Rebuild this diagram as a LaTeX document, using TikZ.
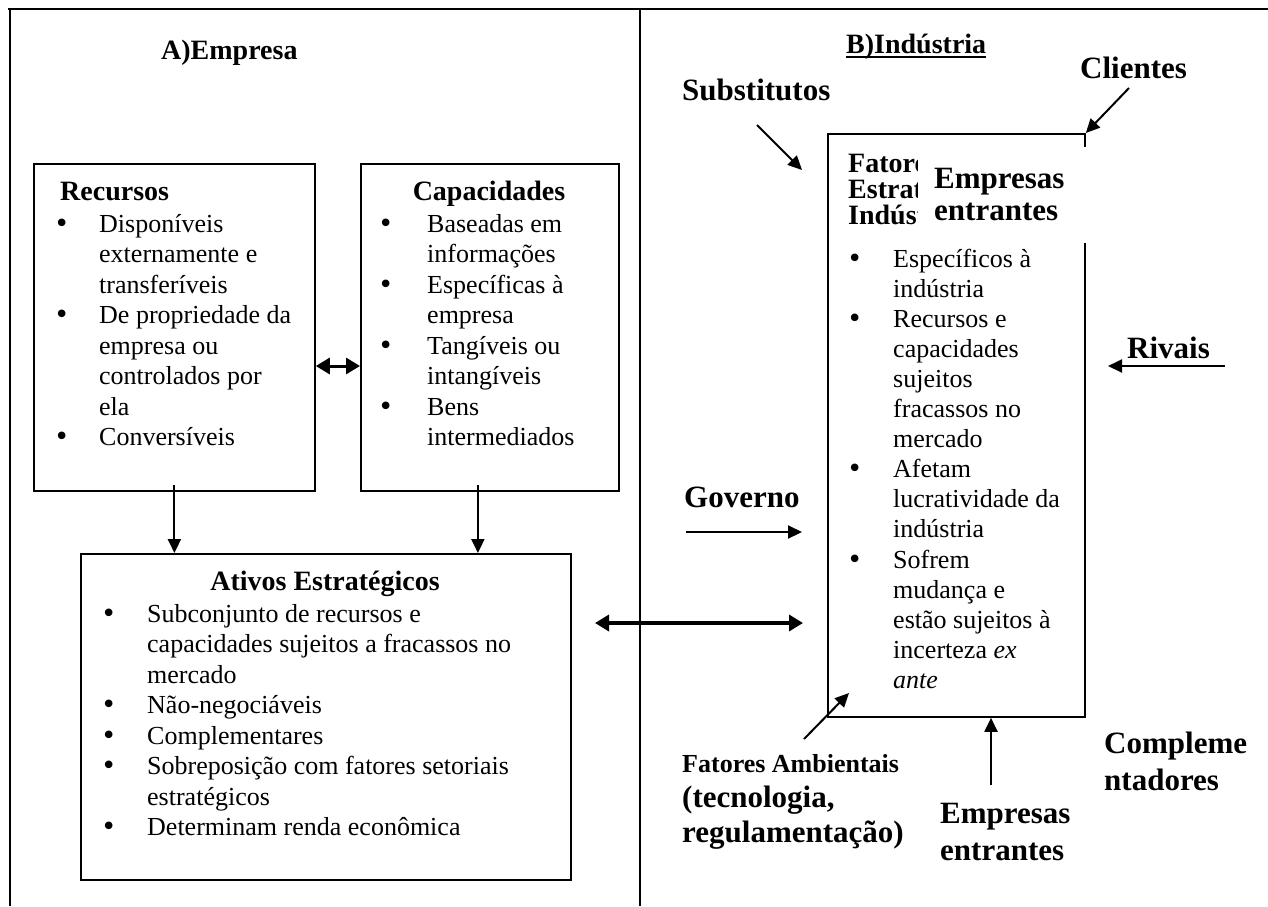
\documentclass[tikz,border=0pt]{standalone}
\usepackage{fontspec}
\setmainfont{Liberation Serif}
\newfontfamily\bulfont{DejaVu Sans}
\usetikzlibrary{arrows.meta,calc}
\begin{document}
\begin{tikzpicture}[x=1pt,y=-1pt,
  body/.style={font=\fontsize{26}{30}\selectfont, inner sep=0pt, anchor=base west},
  ttl/.style={font=\bfseries\fontsize{28}{32}\selectfont, inner sep=0pt, anchor=base west},
  big/.style={font=\bfseries\fontsize{31}{35}\selectfont, inner sep=0pt, anchor=base west},
  sml/.style={font=\bfseries\fontsize{26}{30}\selectfont, inner sep=0pt, anchor=base west},
  bul/.style={font=\bulfont\fontsize{26}{28}\selectfont, inner sep=0pt, anchor=base west},
  box/.style={draw, line width=1.8pt, inner sep=0pt, anchor=north west},
  frame/.style={line width=2.2pt},
  arr/.style={line width=2pt, -{Triangle[length=14pt,width=13pt]}},
  darr/.style={line width=3.5pt, {Triangle[length=14pt,width=16pt]}-{Triangle[length=14pt,width=16pt]}}
]
\useasboundingbox (0,0) rectangle (1268,906);
% frame
\draw[frame] (8,9) -- (1268,9);
\draw[frame] (10,9) -- (10,906);
\draw[frame] (640,9) -- (640,906);

% ---------- A) Empresa ----------
\node[ttl] (tA) at (161,59) {A)Empresa};

\node[box, minimum width=281pt, minimum height=327pt] (rec) at (33,163) {};
\node[box, minimum width=258pt, minimum height=327pt] (cap) at (360,163) {};
\node[box, minimum width=490pt, minimum height=326pt] (ati) at (80,553) {};

\node[ttl] (recT) at (60,200) {Recursos};
\foreach \t [count=\i] in {Disponíveis,externamente e,transferíveis,De propriedade da,empresa ou,controlados por,ela,Conversíveis}
  \node[body] (rec-\i) at (99,{232+30.5*(\i-1)}) {\t};
\foreach \i in {1,4,8}
  \node[bul] (recb-\i) at (54,{232+30.5*(\i-1)}) {•};

\node[ttl, anchor=base] (capT) at (489,200) {Capacidades};
\foreach \t [count=\i] in {Baseadas em,informações,Específicas à,empresa,Tangíveis ou,intangíveis,Bens,intermediados}
  \node[body] (cap-\i) at (427,{232+30.5*(\i-1)}) {\t};
\foreach \i in {1,3,5,7}
  \node[bul] (capb-\i) at (378,{232+30.5*(\i-1)}) {•};

\node[ttl, anchor=base] (atiT) at (325,590) {Ativos Estratégicos};
\foreach \t [count=\i] in {Subconjunto de recursos e,capacidades sujeitos a fracassos no,mercado,Não-negociáveis,Complementares,Sobreposição com fatores setoriais,estratégicos,Determinam renda econômica}
  \node[body] (ati-\i) at (147,{622+30.5*(\i-1)}) {\t};
\foreach \i in {1,4,5,6,8}
  \node[bul] (atib-\i) at (101,{622+30.5*(\i-1)}) {•};

\coordinate (dy) at (0,366);
\draw[darr, line width=3pt] (rec.east |- dy) -- (cap.west |- dy);
\draw[arr] ([yshift=7pt]rec.south) -- (rec.south |- ati.north);
\draw[arr] ([xshift=-12pt,yshift=7pt]cap.south) -- ([xshift=-12pt]cap.south |- ati.north);

% ---------- B) Industria ----------
\node[ttl] (tB) at (846,53) {B)Indústria};
\draw[line width=1.8pt] ([yshift=-4pt]tB.base west) -- ([yshift=-4pt]tB.base east);

\node[big] (cli) at (1080,78) {Clientes};
\node[big] (sub) at (682,100) {Substitutos};
\node[big] (riv) at (1127,358) {Rivais};
\node[big] (gov) at (684,507) {Governo};
\node[sml] (amb1) at (682,772) {Fatores Ambientais};
\node[big] (amb2) at (682,807) {(tecnologia,};
\node[big] (amb3) at (682,842) {regulamentação)};
\node[big] (ent1) at (940,823) {Empresas};
\node[big] (ent2) at (940,860) {entrantes};
\node[big] (com1) at (1104,753) {Compleme};
\node[big] (com2) at (1104,790) {ntadores};

\node[box, minimum width=257pt, minimum height=583pt] (fat) at (827,133) {};
\node[ttl] (fatT1) at (848,172) {Fatore};
\node[ttl] (fatT2) at (848,198) {Estrat};
\node[ttl] (fatT3) at (848,224) {Indúst};
\foreach \t [count=\i] in {Específicos à,indústria,Recursos e,capacidades,sujeitos,fracassos no,mercado,Afetam,lucratividade da,indústria,Sofrem,mudança e,estão sujeitos à,incerteza \textit{ex},\textit{ante}}
  \node[body] (fat-\i) at (893,{267+30.1*(\i-1)}) {\t};
\foreach \i in {1,3,8,11}
  \node[bul] (fatb-\i) at (847,{267+30.1*(\i-1)}) {•};

% overlay label
\node[fill=white, inner sep=0pt, minimum width=172pt, minimum height=96pt, anchor=north west] (ovl) at (918,147) {};
\node[big] (ee1) at (934,188) {Empresas};
\node[big] (ee2) at (934,220) {entrantes};

% connectors
\coordinate (subS) at (757,125);
\coordinate (subE) at (802,170);
\draw[arr] (subS) -- (subE);
\coordinate (cliS) at (1129,88);
\draw[arr] (cliS) -- (fat.north east);
\coordinate (govS) at (686,532);
\coordinate (govE) at (802,532);
\draw[arr] (govS) -- (govE);
\coordinate (dS) at (595,623);
\coordinate (dE) at (803,623);
\draw[darr] (dS) -- (dE);
\coordinate (rivS) at (1225,366);
\coordinate (rivE) at (1108,366);
\draw[arr] (rivS) -- (rivE);
\coordinate (ambS) at (804,739);
\coordinate (ambE) at (849,693);
\draw[arr] (ambS) -- (ambE);
\coordinate (entS) at (991,785);
\draw[arr] (entS) -- (entS |- fat.south);
\end{tikzpicture}
\end{document}
